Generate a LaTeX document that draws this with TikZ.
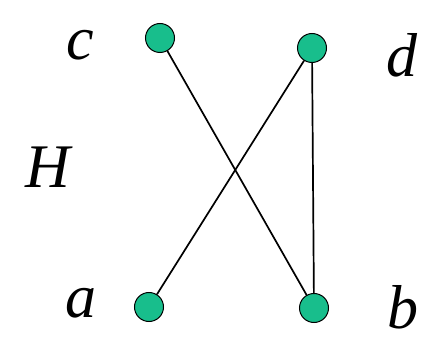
\documentclass[tikz,border=0pt]{standalone}
\usepackage{fontspec}
\setmainfont{Liberation Serif}
\definecolor{vteal}{RGB}{24,190,140}
\begin{document}
\begin{tikzpicture}[x=1pt,y=-1pt,
  vtx/.style={circle,draw=black,line width=1pt,fill=vteal,minimum size=29pt,inner sep=0pt},
  lbl/.style={font=\fontsize{62}{62}\selectfont\itshape,anchor=base,inner sep=0pt},
  edge/.style={line width=1.7pt,black}]
\useasboundingbox (0,0) rectangle (424,337);
\node[vtx] (c) at (160,38) {};
\node[vtx] (d) at (312,48) {};
\node[vtx] (a) at (149,307) {};
\node[vtx] (b) at (314,308) {};
\node[lbl] (lc) at (80,60) {c};
\node[lbl] (ld) at (402,77) {d};
\node[lbl] (lH) at (48,188) {H};
\node[lbl] (la) at (81,317) {a};
\node[lbl] (lb) at (403,329) {b};
\draw[edge] (c) -- (b);
\draw[edge] (a) -- (d);
\draw[edge] (d) -- (b);
\end{tikzpicture}
\end{document}
